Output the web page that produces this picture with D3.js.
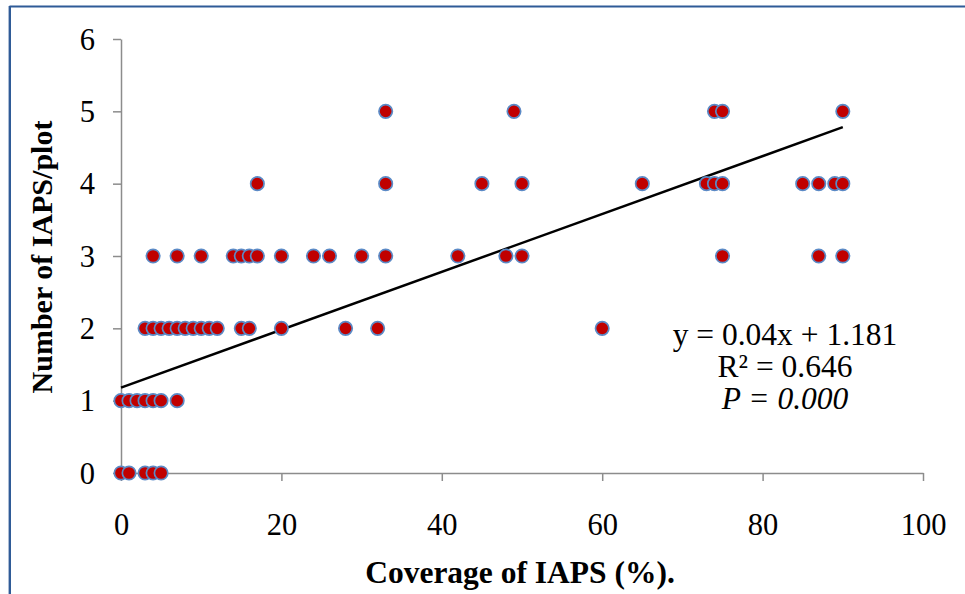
<!DOCTYPE html>
<html>
<head>
<meta charset="utf-8">
<script src="https://cdn.jsdelivr.net/npm/d3@7"></script>
<style>
  html, body { margin: 0; padding: 0; background: #fff; }
  svg { display: block; }
  text { font-family: "Liberation Serif", "Times New Roman", serif; fill: #000; }
</style>
</head>
<body>
<svg id="chart" width="965" height="594"></svg>
<script>
// ---- Data ----
const coverage = [
  0, 1, 3, 4, 5,
  0, 1, 2, 3, 4, 5, 7,
  3, 4, 5, 6, 7, 8, 9, 10, 11, 12, 15, 16, 20, 28, 32, 60,
  4, 7, 10, 14, 15, 16, 17, 20, 24, 26, 30, 33, 42, 48, 50, 75, 87, 90,
  17, 33, 45, 50, 65, 73, 74, 75, 85, 87, 89, 90,
  33, 49, 74, 75, 90
];
const iapsCount = [
  0, 0, 0, 0, 0,
  1, 1, 1, 1, 1, 1, 1,
  2, 2, 2, 2, 2, 2, 2, 2, 2, 2, 2, 2, 2, 2, 2, 2,
  3, 3, 3, 3, 3, 3, 3, 3, 3, 3, 3, 3, 3, 3, 3, 3, 3, 3,
  4, 4, 4, 4, 4, 4, 4, 4, 4, 4, 4, 4,
  5, 5, 5, 5, 5
];
const xTicks = [0, 20, 40, 60, 80, 100];
const yTicks = [0, 1, 2, 3, 4, 5, 6];
const slope = 0.04, intercept = 1.181;
const trendRange = [0, 90];
const statLines = ["y = 0.04x + 1.181", "R² = 0.646", "P = 0.000"];
const xTitle = "Coverage of IAPS (%).";
const yTitle = "Number of IAPS/plot";

// ---- Layout ----
const svg = d3.select("#chart");
const x = d3.scaleLinear().domain([0, 100]).range([121, 923]);
const y = d3.scaleLinear().domain([0, 6]).range([473, 39]);
const axisColor = "#8c8c8c";

// frame (cropped: only top and left edges visible)
svg.append("line").attr("x1", 9.5).attr("x2", 965).attr("y1", 6.5).attr("y2", 6.5)
  .attr("stroke", "#2f5b97").attr("stroke-width", 2.2);
svg.append("line").attr("x1", 9.8).attr("x2", 9.8).attr("y1", 6).attr("y2", 594)
  .attr("stroke", "#2f5b97").attr("stroke-width", 2.4);

// x axis
const gx = svg.append("g").attr("transform", `translate(0,${y(0)})`)
  .call(d3.axisBottom(x).tickValues(xTicks).tickSize(8).tickSizeOuter(0).tickPadding(0).tickFormat(d3.format("d")));
gx.select(".domain").attr("stroke", axisColor).attr("stroke-width", 1.5);
gx.selectAll(".tick line").attr("stroke", axisColor).attr("stroke-width", 1.5);
gx.selectAll(".tick text").attr("font-size", 30.5).attr("dy", null).attr("y", 62)
  .attr("font-family", "Liberation Serif").attr("fill", "#000");

// y axis
const gy = svg.append("g").attr("transform", `translate(${x(0)},0)`)
  .call(d3.axisLeft(y).tickValues(yTicks).tickSize(8).tickSizeOuter(0).tickPadding(0).tickFormat(d3.format("d")));
gy.select(".domain").attr("stroke", axisColor).attr("stroke-width", 1.5);
gy.selectAll(".tick line").attr("stroke", axisColor).attr("stroke-width", 1.5);
gy.selectAll(".tick text").attr("font-size", 30.5).attr("x", -26).attr("dy", "0.33em")
  .attr("font-family", "Liberation Serif").attr("fill", "#000");

// axis titles
svg.append("text").attr("x", 520).attr("y", 583).attr("text-anchor", "middle")
  .attr("font-size", 31.5).attr("font-weight", "bold").text(xTitle);
svg.append("text").attr("transform", "translate(52,257) rotate(-90)").attr("text-anchor", "middle")
  .attr("font-size", 30).attr("font-weight", "bold").text(yTitle);

// trend line
svg.append("line")
  .attr("x1", x(trendRange[0])).attr("y1", y(intercept + slope * trendRange[0]))
  .attr("x2", x(trendRange[1])).attr("y2", y(intercept + slope * trendRange[1]))
  .attr("stroke", "#000").attr("stroke-width", 2.5);

// points
const pts = coverage.map((c, i) => ({ c, n: iapsCount[i] }));
svg.append("g").selectAll("circle").data(pts).join("circle")
  .attr("cx", d => x(d.c)).attr("cy", d => y(d.n)).attr("r", 6.7)
  .attr("fill", "#c00000").attr("stroke", "#5b8ac6").attr("stroke-width", 1.7);

// regression stats
const stats = svg.append("g");
statLines.forEach((s, i) => {
  const t = stats.append("text").attr("x", 785).attr("y", 345 + i * 32)
    .attr("text-anchor", "middle").attr("font-size", 31.5).text(s);
  if (i === 2) t.attr("font-style", "italic");
});
</script>
</body>
</html>
